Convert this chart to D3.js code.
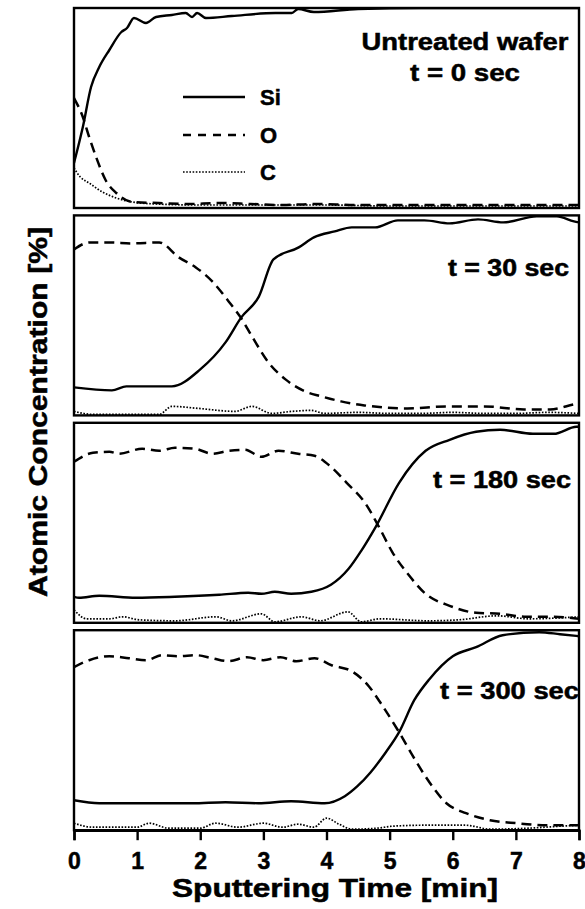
<!DOCTYPE html>
<html>
<head>
<meta charset="utf-8">
<script src="https://cdn.jsdelivr.net/npm/d3@7"></script>
<style>
  body { margin: 0; background: #fff; }
  text { font-family: "Liberation Sans", Arial, sans-serif; font-weight: bold; fill: #000; stroke: #000; stroke-width: 0.5; }
</style>
</head>
<body>
<div id="chart"></div>
<script>
// ---- data (time [min], atomic conc. [%]) ----
var panelNames = ["Untreated wafer", "t = 30 sec", "t = 180 sec", "t = 300 sec"];
var seriesNames = ["Si", "O", "C"];
var xTicks = [0, 1, 2, 3, 4, 5, 6, 7, 8];

var si0 = [[0,22.5],[0.14,40.5],[0.27,60.5],[0.4,70.5],[0.56,79],[0.75,88],[0.84,90],[0.95,95],[1.14,92.5],[1.3,95.5],[1.55,96.5],[1.77,97.5],[1.87,95.5],[1.95,97.5],[2.09,95],[2.5,96],[3.19,97.5],[3.45,97.5],[3.55,99.5],[3.8,98],[4.5,99.5],[5.5,100],[6.5,100],[8,100]];
var o0  = [[0,55],[0.14,45.5],[0.24,35.5],[0.35,25.5],[0.5,14],[0.67,7.5],[0.92,3],[1.35,2.5],[1.8,2],[2.3,2.5],[2.8,2],[3.3,1.5],[3.8,2],[4.5,1.5],[5.5,1.5],[6.5,1.5],[7.5,1.5],[8,1.5]];
var c0  = [[0,20],[0.1,15.5],[0.24,12.5],[0.45,8],[0.67,5],[0.92,3],[1.3,2],[2,1.5],[3,1.5],[4,1.5],[5,1],[6,1],[7,1],[8,1]];

var si1 = [[0,14],[0.6,12.5],[0.83,14.5],[1.55,14.5],[2.0,23],[2.4,36.5],[2.65,49],[2.93,59.5],[3.16,78],[3.56,84],[3.8,89],[4.13,92],[4.4,94],[4.77,94],[5.13,97.5],[5.55,97.5],[5.95,96],[6.4,98],[6.8,96.5],[7.33,99.5],[7.65,99.5],[7.92,97],[8,96.5]];
var o1  = [[0,83],[0.25,86.5],[0.56,86.5],[0.92,86],[1.35,86.5],[1.66,79],[1.93,74],[2.19,67],[2.45,57],[2.64,49],[2.82,39.5],[3.08,26.5],[3.35,18],[3.66,12],[3.92,9.5],[4.23,7],[4.6,5],[5.28,3.5],[5.9,4.5],[6.5,4.5],[7.13,3],[7.54,3],[7.92,5.5],[8,6]];
var c1  = [[0,2],[0.3,0.5],[1.35,0.5],[1.55,4.5],[1.97,3.5],[2.55,2],[2.82,4.5],[3.13,1],[3.45,2],[3.76,2.5],[3.97,1],[4.5,1.5],[5,1],[5.5,1],[6,1.5],[6.5,1],[7,1],[7.5,1.5],[8,1]];

var si2 = [[0,13],[0.08,12.5],[0.4,13.5],[0.98,12.5],[1.6,13],[2.3,14],[2.76,15],[2.97,14.5],[3.18,15.5],[3.44,14.5],[3.76,15.5],[4.07,19],[4.35,27],[4.55,36],[4.78,48],[5.15,70],[5.57,86],[5.95,91.5],[6.37,95.5],[6.75,96.5],[7.27,94.5],[7.6,94.5],[7.96,98],[8,98]];
var o2  = [[0,80.5],[0.3,85],[0.56,85.5],[0.71,84.5],[1.08,87],[1.35,86],[1.6,87.5],[1.92,87],[2.19,84.5],[2.45,86],[2.71,86.5],[2.97,83],[3.24,86],[3.55,84.5],[3.81,83.5],[4.07,78],[4.32,70],[4.61,60],[4.83,48],[5.04,35.5],[5.3,24],[5.57,14.5],[5.95,8.5],[6.37,5],[6.75,4.5],[7.17,3],[7.6,3],[8,2]];
var c2  = [[0,6.5],[0.2,2],[0.56,2],[0.77,3],[1.03,1.5],[1.6,1],[2.25,3],[2.5,1],[2.97,4.5],[3.18,0.5],[3.6,3],[3.9,1],[4.34,5.5],[4.55,0.5],[4.85,2],[5.6,1],[6.1,1.5],[6.7,3.5],[7.2,2],[8,3]];

var si3 = [[0,15],[0.4,13.5],[0.83,13.5],[1.35,13.5],[1.87,13.5],[2.4,14],[2.92,13.5],[3.44,14.5],[3.97,13.5],[4.29,17],[4.49,22],[4.7,29],[4.94,39],[5.15,49],[5.39,65],[5.63,75.5],[6.0,87],[6.37,91.5],[6.79,97.5],[7.37,99],[7.7,98],[8,97]];
var o3  = [[0,81.5],[0.24,85],[0.56,87],[0.87,86],[1.14,85],[1.4,87.5],[1.66,87],[1.93,87.5],[2.19,86],[2.45,84.5],[2.74,86.5],[3.0,85],[3.27,86.5],[3.52,84.5],[3.81,86],[4.08,82.5],[4.4,79.5],[4.67,72],[4.88,62.5],[5.15,49],[5.36,37.5],[5.63,24],[5.9,13.5],[6.21,8.5],[6.59,5],[7.01,3.5],[7.49,2.5],[8,2.5]];
var c3  = [[0,3.5],[0.3,1.5],[1.0,1.5],[1.19,3.5],[1.5,1],[2.0,1],[2.24,3.5],[2.6,1.5],[3.0,3.5],[3.3,1.5],[3.55,3],[3.8,1.5],[4.0,6],[4.2,3],[4.4,0.5],[4.8,1],[5.04,2],[5.57,2.5],[6.2,2.5],[6.6,0.5],[7.2,1],[7.7,2],[8,2.5]];

var profiles = [[si0, o0, c0], [si1, o1, c1], [si2, o2, c2], [si3, o3, c3]];

// ---- layout ----
var W = 585, H = 909;
var left = 74, right = 579;
var panelTop = 8, panelH = 200, gap = 7.4;

var svg = d3.select("#chart").append("svg")
  .attr("width", W)
  .attr("height", H);
svg.append("rect").attr("width", W).attr("height", H).attr("fill", "#fff");

var x = d3.scaleLinear().domain([0, 8]).range([left, right]);

// line styles for Si / O / C
var styles = [
  {dash: null, width: 2.4},
  {dash: "10,6", width: 2.5},
  {dash: "1.6,1.6", width: 1.7}
];

// label placement per panel (right edge, baseline offset, width)
var labelPos = [
  null,
  {x: 569, dy: 61, len: 121},
  {x: 571, dy: 65, len: 138},
  {x: 579, dy: 69, len: 139}
];

profiles.forEach(function(series, i) {
  var top = panelTop + i * (panelH + gap);
  var y = d3.scaleLinear().domain([0, 100]).range([top + panelH, top]);

  svg.append("clipPath").attr("id", "clip" + i)
    .append("rect")
      .attr("x", left).attr("y", top)
      .attr("width", right - left).attr("height", panelH);

  var line = d3.line()
    .x(function(d) { return x(d[0]); })
    .y(function(d) { return y(d[1]); })
    .curve(d3.curveMonotoneX);

  var g = svg.append("g").attr("clip-path", "url(#clip" + i + ")");
  g.selectAll("path")
    .data(series)
    .enter().append("path")
      .attr("d", line)
      .attr("fill", "none")
      .attr("stroke", "#000")
      .attr("stroke-width", function(d, k) { return styles[k].width; })
      .attr("stroke-dasharray", function(d, k) { return styles[k].dash; });

  // panel frame
  svg.append("rect")
    .attr("x", left).attr("y", top)
    .attr("width", right - left).attr("height", panelH)
    .attr("fill", "none")
    .attr("stroke", "#000")
    .attr("stroke-width", 2.4);

  if (i === 0) {
    svg.append("text")
      .attr("x", 465).attr("y", top + 42)
      .attr("text-anchor", "middle")
      .attr("font-size", 23)
      .attr("textLength", 207).attr("lengthAdjust", "spacingAndGlyphs")
      .text(panelNames[0]);
    svg.append("text")
      .attr("x", 465).attr("y", top + 73)
      .attr("text-anchor", "middle")
      .attr("font-size", 24)
      .attr("textLength", 110).attr("lengthAdjust", "spacingAndGlyphs")
      .text("t = 0 sec");

    // legend
    var leg = svg.append("g");
    var legY = [97, 135, 172];
    seriesNames.forEach(function(name, k) {
      leg.append("line")
        .attr("x1", 183).attr("x2", 245)
        .attr("y1", legY[k]).attr("y2", legY[k])
        .attr("stroke", "#000")
        .attr("stroke-width", styles[k].width)
        .attr("stroke-dasharray", k === 1 ? "8,7" : styles[k].dash);
      leg.append("text")
        .attr("x", 260).attr("y", legY[k] + 8)
        .attr("font-size", 22)
        .text(name);
    });
  } else {
    var p = labelPos[i];
    svg.append("text")
      .attr("x", p.x).attr("y", top + p.dy)
      .attr("text-anchor", "end")
      .attr("font-size", 23)
      .attr("textLength", p.len).attr("lengthAdjust", "spacingAndGlyphs")
      .text(panelNames[i]);
  }
});

// bottom axis on the last panel
var bottom = panelTop + 3 * (panelH + gap) + panelH;
var xAxis = svg.append("g")
  .attr("transform", "translate(0," + bottom + ")")
  .call(d3.axisBottom(x).tickValues(xTicks).tickSize(10).tickPadding(12).tickFormat(d3.format("d")));
xAxis.select(".domain").attr("stroke-width", 2.4);
xAxis.selectAll(".tick line").attr("stroke-width", 2.4);
xAxis.selectAll(".tick text")
  .attr("font-size", 23)
  .attr("font-family", "Liberation Sans, Arial, sans-serif")
  .attr("font-weight", "bold")
  .attr("fill", "#000")
  .attr("stroke", "#000")
  .attr("stroke-width", 0.8);

svg.append("text")
  .attr("x", 335).attr("y", 897)
  .attr("text-anchor", "middle")
  .attr("font-size", 25)
  .attr("textLength", 326).attr("lengthAdjust", "spacingAndGlyphs")
  .text("Sputtering Time [min]");

svg.append("text")
  .attr("transform", "translate(47,412) rotate(-90)")
  .attr("text-anchor", "middle")
  .attr("font-size", 25)
  .attr("textLength", 370).attr("lengthAdjust", "spacingAndGlyphs")
  .text("Atomic Concentration [%]");
</script>
</body>
</html>
